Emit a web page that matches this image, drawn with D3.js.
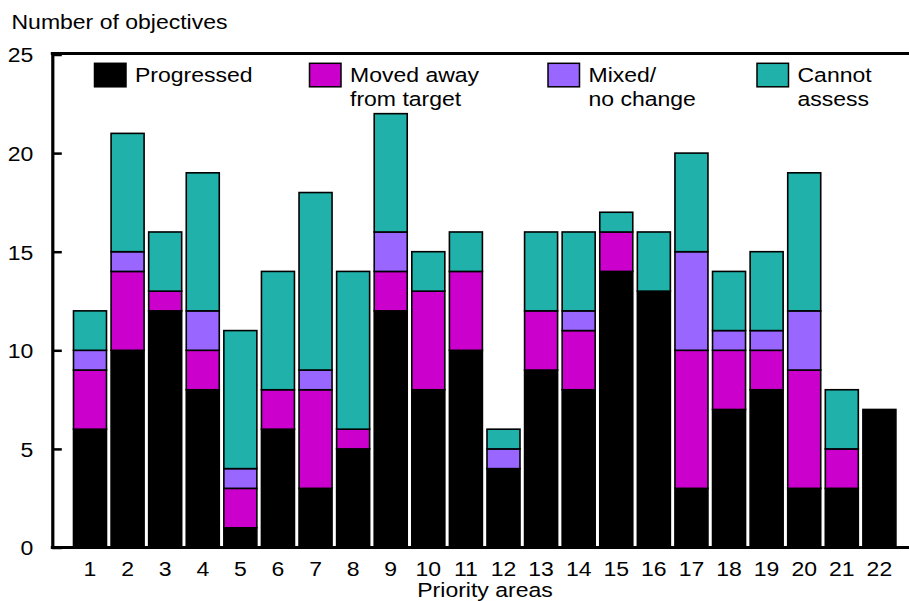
<!DOCTYPE html>
<html>
<head>
<meta charset="utf-8">
<script src="https://cdn.jsdelivr.net/npm/d3@7"></script>
<style>
  html, body { margin: 0; padding: 0; background: #fff; }
  svg { display: block; }
  text { font-family: "Liberation Sans", Arial, Helvetica, sans-serif; font-size: 19.5px; fill: #000; }
</style>
</head>
<body>
<svg id="chart" width="909" height="601"></svg>
<script>
// ---- data ----
const categories = ["1","2","3","4","5","6","7","8","9","10","11","12","13","14","15","16","17","18","19","20","21","22"];
const progressed   = [6,10,12,8,1,6,3,5,12,8,10,4,9,8,14,13,3,7,8,3,3,7];
const movedAway    = [3,4,1,2,2,2,5,1,2,5,4,0,3,3,2,0,7,3,2,6,2,0];
const mixed        = [1,1,0,2,1,0,1,0,2,0,0,1,0,1,0,0,5,1,1,3,0,0];
const cannotAssess = [2,6,3,7,7,6,9,8,6,2,2,1,4,4,1,3,5,3,4,7,3,0];
const seriesKeys   = ["progressed","movedAway","mixed","cannotAssess"];
const seriesLabels = [["Progressed"],["Moved away","from target"],["Mixed/","no change"],["Cannot","assess"]];
const seriesColors = ["#000000","#CC00CC","#9966FF","#20B2AA"];
const yTicks = [0,5,10,15,20,25];
const yTitle = "Number of objectives";
const xTitle = "Priority areas";

// ---- table for stack ----
const table = categories.map((c, i) => ({
  cat: c,
  progressed: progressed[i],
  movedAway: movedAway[i],
  mixed: mixed[i],
  cannotAssess: cannotAssess[i]
}));

const svg = d3.select("#chart");
const SX = 1.18; // horizontal text stretch of the original rendering

function putText(parent, str, x, y, anchor) {
  return parent.append("text")
    .attr("transform", `translate(${x},${y}) scale(${SX},1)`)
    .attr("text-anchor", anchor || "start")
    .text(str);
}

const axisX = 52.3, rightEdge = 909;
const x = d3.scaleBand().domain(categories).range([71.2, 898.2]).paddingInner(0.122).paddingOuter(0.061);
const y = d3.scaleLinear().domain([0, 25]).range([547.5, 54.5]);
const color = d3.scaleOrdinal().domain(seriesKeys).range(seriesColors);

const stacked = d3.stack().keys(seriesKeys)(table);

// bars
const layers = svg.append("g").selectAll("g").data(stacked).join("g")
  .attr("fill", d => color(d.key));
layers.selectAll("rect")
  .data(d => d.filter(s => s[1] - s[0] > 0))
  .join("rect")
  .attr("x", d => x(d.data.cat))
  .attr("width", x.bandwidth())
  .attr("y", d => y(d[1]))
  .attr("height", d => y(d[0]) - y(d[1]))
  .attr("stroke", "#000")
  .attr("stroke-width", 1.6);

// frame lines
svg.append("line").attr("x1", axisX - 1.5).attr("x2", rightEdge).attr("y1", 53.5).attr("y2", 53.5)
  .attr("stroke", "#000").attr("stroke-width", 3);
svg.append("line").attr("x1", axisX - 1.5).attr("x2", rightEdge).attr("y1", y(0)).attr("y2", y(0))
  .attr("stroke", "#000").attr("stroke-width", 3);

// y axis
const yAxisG = svg.append("g").attr("transform", `translate(${axisX},0)`)
  .call(d3.axisLeft(y).tickValues(yTicks).tickSizeInner(-9.5).tickSizeOuter(0).tickPadding(19).tickFormat(d3.format("d")));
yAxisG.select(".domain").attr("stroke-width", 3.2);
yAxisG.selectAll(".tick line").attr("stroke-width", 2.5);
yAxisG.attr("font-size", null).attr("font-family", null);
yAxisG.selectAll(".tick text").each(function() {
  const t = d3.select(this);
  const tx = +t.attr("x");
  t.attr("x", 0).attr("dy", null).attr("y", 0)
   .attr("transform", `translate(${tx},7.4) scale(${SX},1)`)
   .attr("fill", "#000");
});

// x axis labels
const xAxisG = svg.append("g").attr("transform", `translate(0,${y(0)})`)
  .call(d3.axisBottom(x).tickSize(0).tickPadding(0));
xAxisG.select(".domain").remove();
xAxisG.attr("font-size", null).attr("font-family", null);
xAxisG.selectAll(".tick text").each(function() {
  const t = d3.select(this);
  t.attr("dy", null).attr("y", 0)
   .attr("transform", `translate(0,28.7) scale(${SX},1)`)
   .attr("fill", "#000");
});

// titles
putText(svg, yTitle, 11.5, 29.2);
putText(svg, xTitle, 485, 597, "middle");

// legend
const legendX = [94.5, 309.5, 548, 757];
const lg = svg.append("g");
seriesKeys.forEach((k, i) => {
  lg.append("rect")
    .attr("x", legendX[i]).attr("y", 63.3)
    .attr("width", 31.5).attr("height", 23.5)
    .attr("fill", color(k)).attr("stroke", "#000").attr("stroke-width", 1.5);
  seriesLabels[i].forEach((line, j) => {
    putText(lg, line, legendX[i] + 40.5, 81.9 + j * 24);
  });
});
</script>
</body>
</html>
